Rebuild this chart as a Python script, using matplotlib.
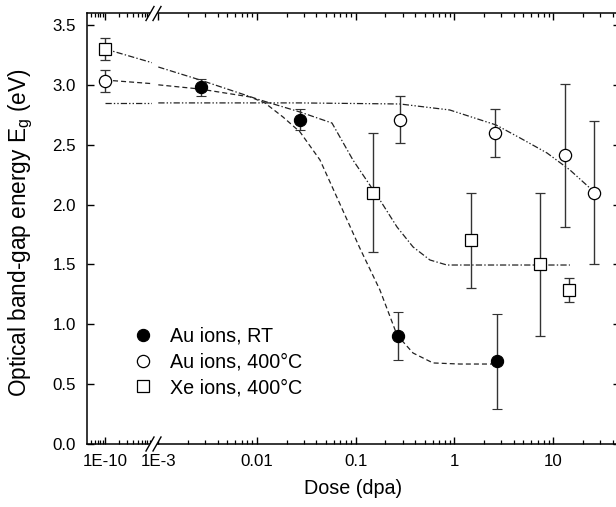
import matplotlib
matplotlib.use('Agg')
import matplotlib.pyplot as plt
from matplotlib.lines import Line2D
from matplotlib.patches import Polygon
from matplotlib.ticker import FixedLocator, LogLocator, NullFormatter, MultipleLocator
import numpy as np

plt.rcParams['font.family'] = ['Liberation Sans', 'DejaVu Sans']
plt.rcParams['mathtext.fontset'] = 'custom'
plt.rcParams['mathtext.rm'] = 'Liberation Sans'
plt.rcParams['lines.scale_dashes'] = False

# ---------------- data ----------------
au_rt_x = [0.0027, 0.027, 0.27, 2.7]
au_rt_y = [2.98, 2.71, 0.90, 0.69]
au_rt_err = [0.07, 0.09, 0.20, 0.40]

au400_x = [1e-10, 0.28, 2.6, 13.2, 26.0]
au400_y = [3.03, 2.71, 2.60, 2.41, 2.10]
au400_err = [0.09, 0.20, 0.20, 0.60, 0.60]

xe400_x = [1e-10, 0.15, 1.47, 7.4, 14.5]
xe400_y = [3.30, 2.10, 1.70, 1.50, 1.29]
xe400_err = [0.09, 0.50, 0.40, 0.60, 0.10]

# fit curves, split at the axis break
au_rt_fit_left_x = [1e-10, 1e-9]
au_rt_fit_left_y = [3.04, 3.01]
au_rt_fit_right_x = [1e-3, 0.00264, 0.0085, 0.012, 0.0183, 0.0273, 0.0435, 0.0692,
                     0.110, 0.176, 0.262, 0.381, 0.607, 1.13, 2.64]
au_rt_fit_right_y = [3.00, 2.965, 2.899, 2.849, 2.732, 2.606, 2.372, 2.005,
                     1.637, 1.286, 0.911, 0.760, 0.677, 0.668, 0.668]

xe_fit_left_x = [1e-10, 1e-9]
xe_fit_left_y = [3.30, 3.185]
xe_fit_right_x = [1e-3, 0.00264, 0.0107, 0.0273, 0.0575, 0.0938, 0.176, 0.262,
                  0.381, 0.565, 0.840, 1.81, 14.8]
xe_fit_right_y = [3.149, 3.041, 2.874, 2.773, 2.681, 2.372, 2.038, 1.813,
                  1.646, 1.537, 1.495, 1.495, 1.495]

au400_fit_left_x = [1e-10, 1e-9]
au400_fit_left_y = [2.85, 2.85]
au400_fit_right_x = [1e-3, 0.0273, 0.281, 0.897, 2.64, 4.63, 8.67, 14.8, 26.1]
au400_fit_right_y = [2.849, 2.849, 2.840, 2.790, 2.665, 2.556, 2.431, 2.289, 2.105]

series_labels = ['Au ions, RT', 'Au ions, 400°C', 'Xe ions, 400°C']
right_major_ticks = [1e-3, 1e-2, 1e-1, 1, 10]
right_major_labels = ['1E-3', '0.01', '0.1', '1', '10']
left_major_ticks = [1e-10]
left_major_labels = ['1E-10']

# ---------------- layout ----------------
W, H = 616, 507
fig = plt.figure(figsize=(W / 100, H / 100), dpi=100)

def fx(px):
    return px / W

def fy(py):
    return 1 - py / H

ax_bottom, ax_top = 444, 13
axL = fig.add_axes([fx(87), fy(ax_bottom), fx(152) - fx(87), fy(ax_top) - fy(ax_bottom)])
axR = fig.add_axes([fx(152), fy(ax_bottom), fx(620) - fx(152), fy(ax_top) - fy(ax_bottom)])

axL.set_xscale('log')
axR.set_xscale('log')
axL.set_xlim(10 ** (-10 - 18 / 47), 1e-9)
axR.set_xlim(10 ** (-2 - 105 / 98.7), 10 ** (-2 + 363 / 98.7))
for ax in (axL, axR):
    ax.set_ylim(0, 3.6)

line_col = '#222222'
ecol = '#333333'
msz_c = 8.8
msz_s = 8.0
cap = 3.4

fit_specs = [
    (au_rt_fit_left_x, au_rt_fit_left_y, au_rt_fit_right_x, au_rt_fit_right_y, (3.6, 2.2)),
    (xe_fit_left_x, xe_fit_left_y, xe_fit_right_x, xe_fit_right_y, (4.5, 1.6, 1.0, 1.6)),
    (au400_fit_left_x, au400_fit_left_y, au400_fit_right_x, au400_fit_right_y,
     (4.5, 1.5, 1.0, 1.5, 1.0, 1.5)),
]
for lx, ly, rx, ry, dash in fit_specs:
    axL.plot(lx, ly, color=line_col, lw=0.9, dashes=dash, zorder=2)
    axR.plot(rx, ry, color=line_col, lw=0.9, dashes=dash, zorder=2)

for ax in (axL, axR):
    ax.errorbar(au_rt_x, au_rt_y, yerr=au_rt_err, fmt='o', ms=msz_c, mfc='black',
                mec='black', mew=0.8, ecolor=ecol, elinewidth=1.0, capsize=cap,
                capthick=1.0, zorder=3)
    ax.errorbar(au400_x, au400_y, yerr=au400_err, fmt='o', ms=msz_c, mfc='white',
                mec='black', mew=0.9, ecolor=ecol, elinewidth=1.0, capsize=cap,
                capthick=1.0, zorder=3)
    ax.errorbar(xe400_x, xe400_y, yerr=xe400_err, fmt='s', ms=msz_s, mfc='white',
                mec='black', mew=0.9, ecolor=ecol, elinewidth=1.0, capsize=cap,
                capthick=1.0, zorder=3)

# ticks and spines
for ax in (axL, axR):
    ax.tick_params(axis='both', which='major', direction='in', length=5, width=1.0,
                   labelsize=12.2, top=True)
    ax.tick_params(axis='x', which='minor', direction='in', length=2.6, width=0.9, top=True)
    ax.tick_params(axis='x', which='both', pad=7)
    for s in ax.spines.values():
        s.set_linewidth(1.1)
    ax.yaxis.set_major_locator(MultipleLocator(0.5))

axL.spines['right'].set_visible(False)
axR.spines['left'].set_visible(False)
axL.tick_params(axis='y', left=True, right=False, pad=8)
axR.tick_params(axis='y', left=False, right=True, labelleft=False)
axL.yaxis.set_major_formatter(matplotlib.ticker.FormatStrFormatter('%.1f'))

axL.xaxis.set_major_locator(FixedLocator(left_major_ticks))
axL.set_xticklabels(left_major_labels)
axL.xaxis.set_minor_locator(LogLocator(base=10, subs=np.arange(2, 10), numticks=40))
axL.xaxis.set_minor_formatter(NullFormatter())

axR.xaxis.set_major_locator(FixedLocator(right_major_ticks))
axR.set_xticklabels(right_major_labels)
axR.xaxis.set_minor_locator(LogLocator(base=10, subs=np.arange(2, 10), numticks=40))
axR.xaxis.set_minor_formatter(NullFormatter())

# axis labels
fig.text(fx((87 + 620) / 2), fy(489), 'Dose (dpa)', ha='center', va='center', fontsize=14.2)
fig.text(fx(21), fy(233), 'Optical band-gap energy E$_{\\mathrm{g}}$ (eV)', rotation=90,
         ha='center', va='center', fontsize=16.3)

# break marks
def pts(lst):
    return [(fx(a), fy(b)) for a, b in lst]

for ys in (13.5, 444):
    fig.add_artist(Polygon(pts([(146, ys + 7), (154, ys - 7), (161, ys - 7), (153, ys + 7)]),
                           closed=True, facecolor='white', edgecolor='none',
                           transform=fig.transFigure, zorder=5))
    for xc in (150, 157):
        a, b = pts([(xc - 4, ys + 7), (xc + 4, ys - 7)])
        fig.add_artist(Line2D([a[0], b[0]], [a[1], b[1]], color='black', lw=1.0,
                              transform=fig.transFigure, zorder=6))

# legend
handles = [
    Line2D([], [], ls='none', marker='o', ms=msz_c, mfc='black', mec='black', mew=0.8),
    Line2D([], [], ls='none', marker='o', ms=msz_c, mfc='white', mec='black', mew=0.9),
    Line2D([], [], ls='none', marker='s', ms=msz_s, mfc='white', mec='black', mew=0.9),
]
fig.legend(handles, series_labels, loc='upper left', bbox_to_anchor=(fx(135.5), fy(327)),
           frameon=False, fontsize=14.2, handlelength=0.8, handletextpad=0.95,
           labelspacing=0.33, borderpad=0, borderaxespad=0)

fig.savefig('out.png', dpi=100)
